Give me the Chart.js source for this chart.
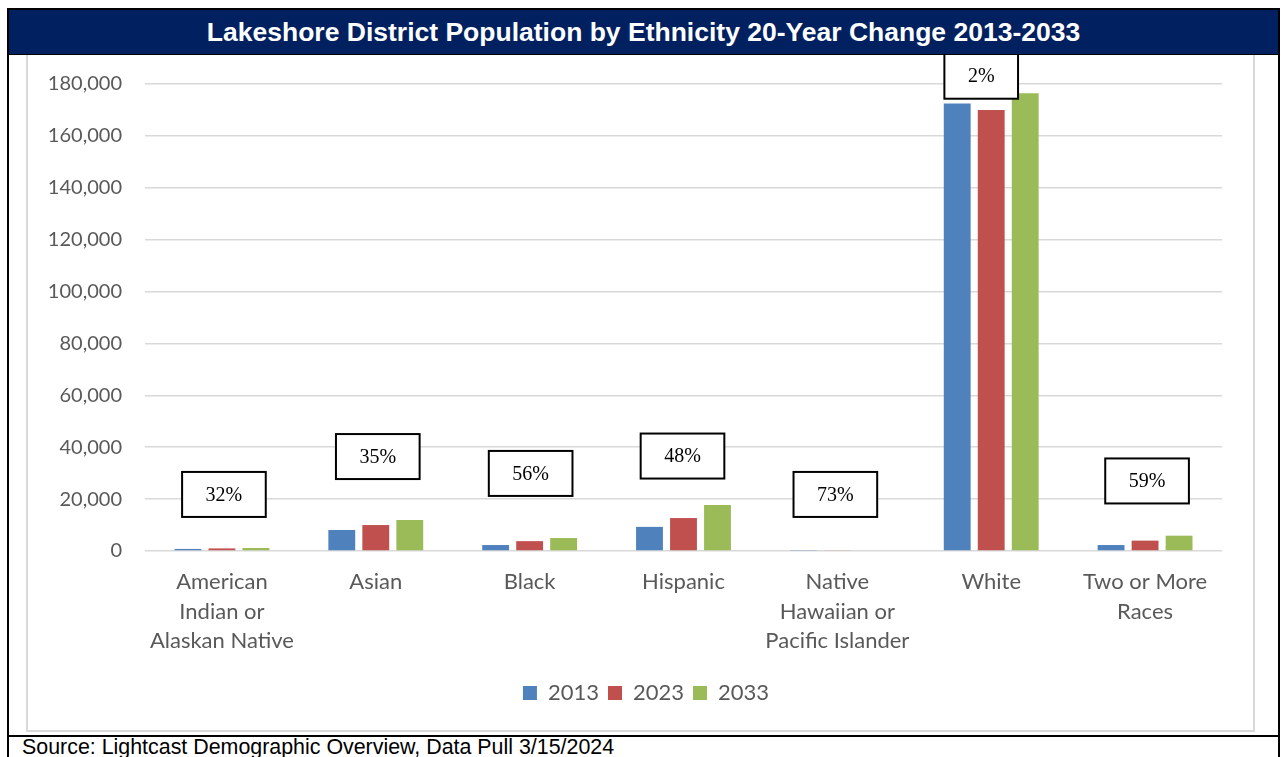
<!DOCTYPE html>
<html>
<head>
<meta charset="utf-8">
<title>Lakeshore District Population by Ethnicity</title>
<script src="https://cdn.jsdelivr.net/npm/chart.js@4.4.1/dist/chart.umd.min.js"></script>
<style>
  html, body { margin: 0; padding: 0; background: #fff; }
  body { width: 1281px; height: 757px; position: relative; overflow: hidden; }
  .frame {
    position: absolute; left: 7px; top: 8px; width: 1269px; height: 760px;
    border-left: 2px solid #000; border-right: 2px solid #000; border-top: 2px solid #000;
  }
  .title-bar {
    position: absolute; left: 9px; top: 10px; width: 1269px; height: 44px;
    background: #002060; border-bottom: 1px solid #000;
    color: #fff; font: bold 26.5px "Liberation Sans", Arial, sans-serif;
    text-align: center; line-height: 44px;
  }
  .cell-line { position: absolute; left: 9px; top: 735px; width: 1269px; height: 2px; background: #000; }
  .chart-box {
    position: absolute; left: 26px; top: 55px; width: 1225px; height: 675px;
    border: 2px solid #d9d9d9; border-top: none; box-sizing: content-box;
  }
  #popChart { position: absolute; left: 0; top: 0; }
  .source {
    position: absolute; left: 22px; top: 737px;
    font: 21.4px/21px "Liberation Sans", Arial, sans-serif; color: #000; white-space: nowrap;
  }
</style>
</head>
<body>
<div class="frame"></div>
<div class="title-bar">Lakeshore District Population by Ethnicity 20-Year Change 2013-2033</div>
<div class="chart-box"><canvas id="popChart" width="1223" height="673"></canvas></div>
<div class="cell-line"></div>
<div class="source">Source: Lightcast Demographic Overview, Data Pull 3/15/2024</div>

<script>
const categories = [
  ['American', 'Indian or', 'Alaskan Native'],
  ['Asian'],
  ['Black'],
  ['Hispanic'],
  ['Native', 'Hawaiian or', 'Pacific Islander'],
  ['White'],
  ['Two or More', 'Races']
];
const years = ['2013', '2023', '2033'];
const pop2013 = [800, 8100, 2300, 9300, 200, 172500, 2300];
const pop2023 = [1000, 10000, 3800, 12700, 250, 170000, 4000];
const pop2033 = [1150, 11950, 5000, 17700, 300, 176400, 5900];
const changeLabels = ['32%', '35%', '56%', '48%', '73%', '2%', '59%'];

const yTicks = [0, 20000, 40000, 60000, 80000, 100000, 120000, 140000, 160000, 180000];

// callout boxes with the 20-year change, placed above each group
const changeBoxes = {
  id: 'changeBoxes',
  afterDatasetsDraw(chart, args, opts) {
    const { ctx, scales: { x, y } } = chart;
    ctx.save();
    ctx.font = '20px "Liberation Serif", "Times New Roman", serif';
    ctx.textAlign = 'center';
    ctx.textBaseline = 'middle';
    changeLabels.forEach((txt, i) => {
      const cx = x.getPixelForValue(i) + opts.dx[i];
      const cy = y.getPixelForValue(opts.yAt[i]);
      const w = ctx.measureText(txt).width + 47;
      const h = 45;
      ctx.fillStyle = '#fff';
      ctx.fillRect(cx - w / 2, cy - h / 2, w, h);
      ctx.lineWidth = 2;
      ctx.strokeStyle = '#000';
      ctx.strokeRect(cx - w / 2, cy - h / 2, w, h);
      ctx.fillStyle = '#000';
      ctx.fillText(txt, cx, cy + 1);
    });
    ctx.restore();
  }
};

// the legend sits centred in the whole box, not just left of the right padding
const legendShift = {
  id: 'legendShift',
  afterLayout(chart, args, opts) {
    const lg = chart.legend;
    if (!lg) return;
    lg.left += opts.dx;
    lg.right += opts.dx;
  }
};

const axisFont = 'Lato, "Open Sans", sans-serif';

new Chart(document.getElementById('popChart'), {
  type: 'bar',
  data: {
    labels: categories,
    datasets: [
      { label: years[0], data: pop2013, backgroundColor: '#4F81BD' },
      { label: years[1], data: pop2023, backgroundColor: '#C0504D' },
      { label: years[2], data: pop2033, backgroundColor: '#9BBB59' }
    ]
  },
  options: {
    responsive: false,
    animation: false,
    locale: 'en-US',
    datasets: { bar: { barPercentage: 0.79, categoryPercentage: 0.663 } },
    layout: { padding: { top: 29, right: 29, left: 0, bottom: 14 } },
    scales: {
      x: {
        grid: { display: false },
        border: { display: false },
        ticks: {
          color: '#595959', padding: 8.5, maxRotation: 0, autoSkip: false,
          font: { family: axisFont, size: 22, lineHeight: 1.34 }
        },
        afterFit(scale) { scale.height = 122; }
      },
      y: {
        min: 0,
        max: 180000,
        afterBuildTicks(scale) { scale.ticks = yTicks.map(v => ({ value: v })); },
        grid: { color: '#d9d9d9', lineWidth: 1.5, drawTicks: true, tickLength: 20, tickColor: 'rgba(0,0,0,0)' },
        border: { display: false },
        ticks: { color: '#595959', padding: 3, font: { family: axisFont, size: 20 } },
        afterFit(scale) { scale.width = 117; }
      }
    },
    plugins: {
      legend: {
        position: 'bottom',
        labels: {
          color: '#595959', font: { family: axisFont, size: 22 },
          boxWidth: 14, boxHeight: 14, padding: 9
        }
      },
      legendShift: { dx: 21 },
      tooltip: { enabled: false },
      changeBoxes: {
        yAt: [21800, 36400, 29900, 36600, 21800, 183000, 27000],
        dx: [2, 2, 1, -1, -2, -10, 2]
      }
    }
  },
  plugins: [changeBoxes, legendShift]
});
</script>
</body>
</html>
